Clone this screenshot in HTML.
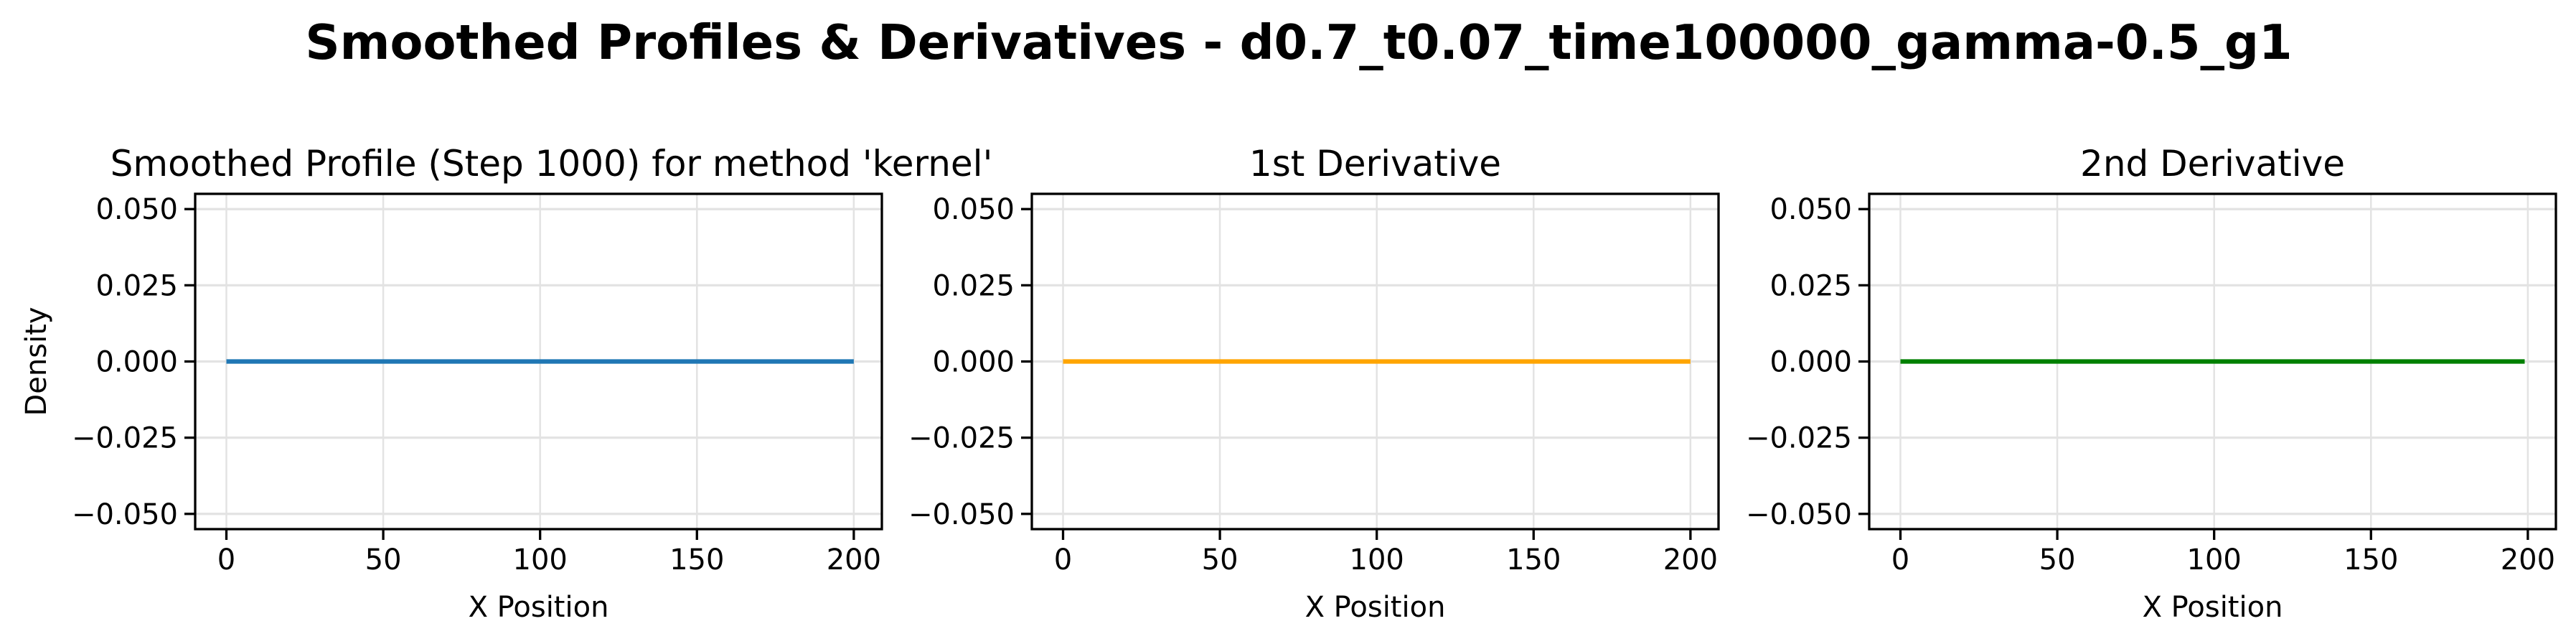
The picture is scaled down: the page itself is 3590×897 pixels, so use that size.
<!DOCTYPE html>
<html><head><meta charset="utf-8"><style>
body{margin:0;background:#fff}
svg{display:block;font-family:"DejaVu Sans","Liberation Sans",sans-serif}
</style></head><body>
<svg id="fig" width="3590" height="897" viewBox="0 0 3590 897" xmlns="http://www.w3.org/2000/svg">
<rect width="3590" height="897" fill="#fff"/>
<text x="1810" y="82" font-size="67" font-weight="bold" text-anchor="middle">Smoothed Profiles &amp; Derivatives - d0.7_t0.07_time100000_gamma-0.5_g1</text>
<g id="plots"></g>
</svg>
<script>
const xProfile = [0, 200];
const xFirst = [0, 200];
const xSecond = [0, 199];
const profileValues = [0, 0];
const firstDerivValues = [0, 0];
const secondDerivValues = [0, 0];
const xTicks = [0, 50, 100, 150, 200];
const yTicks = [0.05, 0.025, 0, -0.025, -0.05];
const yTickLabels = ["0.050", "0.025", "0.000", "\u22120.025", "\u22120.050"];
const panelTitles = ["Smoothed Profile (Step 1000) for method 'kernel'", "1st Derivative", "2nd Derivative"];

const NS = "http://www.w3.org/2000/svg";
const root = document.getElementById('plots');
const panels = [
  {left:272, right:1229, xs:xProfile, vals:profileValues, color:"#1f77b4", name:"profile", tdx:18},
  {left:1438, right:2395, xs:xFirst, vals:firstDerivValues, color:"#ffa500", name:"first-derivative", tdx:0},
  {left:2605, right:3562, xs:xSecond, vals:secondDerivValues, color:"#008000", name:"second-derivative", tdx:0}
];
const axTop = 270, axBottom = 737;
const xmin = -9.95, xmax = 208.95, ymin = -0.055, ymax = 0.055;
function mk(tag, attrs, parent){const e=document.createElementNS(NS,tag);for(const k in attrs)e.setAttribute(k,attrs[k]);parent.appendChild(e);return e;}

panels.forEach((p, i) => {
  const sx = v => p.left + (v - xmin) / (xmax - xmin) * (p.right - p.left);
  const sy = v => axBottom - (v - ymin) / (ymax - ymin) * (axBottom - axTop);
  const g = mk('g', {}, root);
  
  
  xTicks.forEach(t => {
    const l = mk('line', {x1:sx(t), x2:sx(t), y1:axTop, y2:axBottom, stroke:"#e3e3e3", "stroke-width":2.5}, g);
    
    
  });
  yTicks.forEach(t => {
    const l = mk('line', {x1:p.left, x2:p.right, y1:sy(t), y2:sy(t), stroke:"#e3e3e3", "stroke-width":3.3}, g);
    
    
  });
  const pts = p.xs.map((x, k) => sx(x) + ',' + sy(p.vals[k])).join(' ');
  const pl = mk('polyline', {points:pts, fill:"none", stroke:p.color, "stroke-width":6.2}, g);
  
  
  const fr = mk('rect', {x:p.left, y:axTop, width:p.right-p.left, height:axBottom-axTop, fill:"none", stroke:"#000", "stroke-width":3.3}, g);
  
  
  xTicks.forEach(t => {
    mk('line', {x1:sx(t), x2:sx(t), y1:axBottom, y2:axBottom+15, stroke:"#000", "stroke-width":3.3}, g);
    const tx = mk('text', {x:sx(t), y:axBottom+56, "font-size":40, "text-anchor":"middle"}, g);
    tx.textContent = t;
    
    
  });
  yTicks.forEach((t, k) => {
    mk('line', {x1:p.left-15, x2:p.left, y1:sy(t), y2:sy(t), stroke:"#000", "stroke-width":3.3}, g);
    const tx = mk('text', {x:p.left-24, y:sy(t)+14, "font-size":40, "text-anchor":"end"}, g);
    tx.textContent = yTickLabels[k];
    
    
  });
  const ti = mk('text', {x:(p.left+p.right)/2 + p.tdx, y:245, "font-size":50, "text-anchor":"middle"}, g);
  ti.textContent = panelTitles[i];
  
  
  const xl = mk('text', {x:(p.left+p.right)/2, y:859, "font-size":40, "text-anchor":"middle"}, g);
  xl.textContent = "X Position";
  
  
  if (i === 0) {
    const yl = mk('text', {x:0, y:0, "font-size":40, "text-anchor":"middle", transform:"translate(64,"+((axTop+axBottom)/2)+") rotate(-90)"}, g);
    yl.textContent = "Density";
    
    
  }
});
</script>
</body></html>
